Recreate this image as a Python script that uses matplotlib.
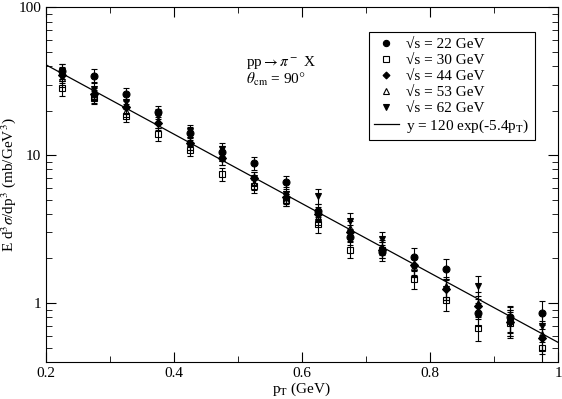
import numpy as np
import matplotlib
matplotlib.use("Agg")
import matplotlib.pyplot as plt
from matplotlib.lines import Line2D
from matplotlib.ticker import LogLocator, NullFormatter, MultipleLocator

plt.rcParams['font.family'] = ['Liberation Serif', 'DejaVu Serif']
plt.rcParams['mathtext.fontset'] = 'stix'

# transverse momentum bins (GeV)
pt = [0.225, 0.275, 0.325, 0.375, 0.425, 0.475, 0.525, 0.575,
      0.625, 0.675, 0.725, 0.775, 0.825, 0.875, 0.925, 0.975]

# invariant cross sections (mb/GeV^3)
s22 = [37, 34.5, 26, 19.5, 14, 10.5, 8.8, 6.6, 4.2, 2.8, 2.2, 2.05, 1.7, 0.85, 0.8, 0.85]
s30 = [28.5, 24.5, 18.5, 13.8, 10.9, 7.4, 6.2, 5.0, 3.4, 2.3, 2.3, 1.45, 1.05, 0.68, 0.73, 0.5]
s44 = [35, 26, 21, 16.5, 12, 9.5, 7.0, 5.2, 4.0, 3.0, 2.3, 1.8, 1.25, 0.95, 0.75, 0.58]
s53 = [33, 25, 20, 17, 12, 9.5, 6.5, 5.0, 3.8, 3.2, 2.4, 1.75, 1.3, 1.0, 0.78, 0.62]
s62 = [37, 28, 23, 18.5, 14.5, 11, 7.0, 5.5, 5.3, 3.6, 2.7, 1.75, 1.25, 1.3, 0.75, 0.7]

# relative uncertainty per bin
rel_err = [0.12, 0.1, 0.1, 0.1, 0.1, 0.1, 0.1, 0.1,
           0.12, 0.12, 0.12, 0.14, 0.16, 0.18, 0.2, 0.22]

series = [
    (s22, 'o', 'black', '\u221as = 22 GeV'),
    (s30, 's', 'none', '\u221as = 30 GeV'),
    (s44, 'D', 'black', '\u221as = 44 GeV'),
    (s53, '^', 'none', '\u221as = 53 GeV'),
    (s62, 'v', 'black', '\u221as = 62 GeV'),
]

fig = plt.figure(figsize=(5.62, 3.99), dpi=100)
ax = fig.add_axes([0.082, 0.093, 0.911, 0.889])

x = np.array(pt)
handles = []
for vals, mk, fc, lab in series:
    v = np.array(vals)
    ms = 4 if mk == 'D' else 5
    ax.errorbar(x, v, yerr=v * np.array(rel_err), fmt=mk, mfc=fc, mec='black',
                color='black', ms=ms, mew=0.8, elinewidth=0.8, capsize=2.5,
                capthick=0.8)
    handles.append(Line2D([], [], ls='none', marker=mk, mfc=fc, mec='black',
                          ms=ms - 0.5, mew=0.8, label=lab))

xf = np.linspace(0.2, 1.0, 200)
fit_line, = ax.plot(xf, 120 * np.exp(-5.4 * xf), color='black', lw=0.9,
                    label=r'y = 120 exp(-5.4p$_{\rm T}$)')
handles.append(fit_line)

ax.set_yscale('log')
ax.set_xlim(0.2, 1.0)
ax.set_ylim(0.4, 100)
ax.set_xticks([0.2, 0.4, 0.6, 0.8, 1.0])
ax.set_xticklabels(['0.2', '0.4', '0.6', '0.8', '1'])
ax.xaxis.set_minor_locator(MultipleLocator(0.1))
ax.set_yticks([1, 10, 100])
ax.set_yticklabels(['1', '10', '100'])
ax.yaxis.set_minor_locator(LogLocator(base=10, subs=np.arange(2, 10)))
ax.yaxis.set_minor_formatter(NullFormatter())
ax.tick_params(which='both', direction='in', top=True, right=True, labelsize=11)
ax.tick_params(which='major', length=7)
ax.tick_params(which='minor', length=4)

ax.set_xlabel(r'p$_{\rm T}$ (GeV)', fontsize=11, labelpad=1)
ax.set_ylabel(r'E d$^3\sigma$/dp$^3$ (mb/GeV$^3$)', fontsize=11)
ax.yaxis.set_label_coords(-0.055, 0.5)

ax.text(0.39, 0.835, r'pp$\rightarrow\pi^-$ X', transform=ax.transAxes, fontsize=11)
ax.text(0.39, 0.785, r'$\theta_{\rm cm}$ = 90$\degree$', transform=ax.transAxes, fontsize=11)

leg = ax.legend(handles=handles, loc='upper right', bbox_to_anchor=(0.955, 0.93),
                borderaxespad=0, fontsize=11, frameon=True, fancybox=False,
                edgecolor='black', framealpha=1, handlelength=1.6, borderpad=0.35,
                labelspacing=0.15, handletextpad=0.5)
leg.get_frame().set_linewidth(0.8)

fig.savefig('out.png', dpi=100)
